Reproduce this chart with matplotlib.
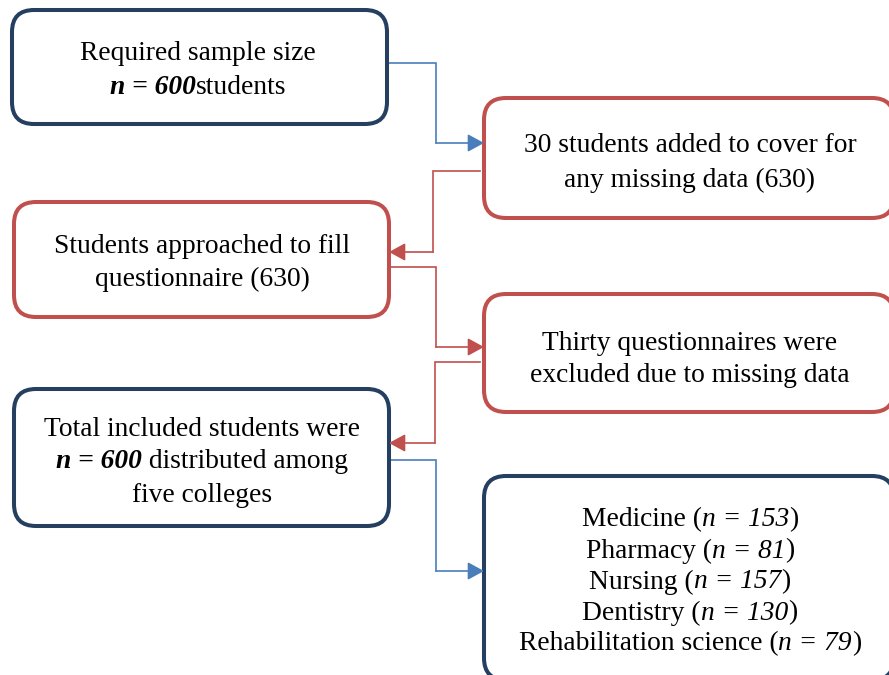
import matplotlib.pyplot as plt
from matplotlib.patches import FancyBboxPatch

NAVY = '#243F60'
RED = '#C0504D'
BLUE = '#4A7EBB'

colleges = ['Medicine', 'Pharmacy', 'Nursing', 'Dentistry', 'Rehabilitation science']
college_n = [153, 81, 157, 130, 79]
sample_size = 600
added = 30
approached = 630

# box: (x0, y0, x1, y1) in pixels (y down), edge colour
boxes = {
    'required': ((12, 10, 387, 124), NAVY),
    'added': ((484, 98, 894, 218), RED),
    'approached': ((14, 202, 389, 317), RED),
    'excluded': ((484, 294, 894, 412), RED),
    'total': ((14, 389, 389, 526), NAVY),
    'colleges': ((484, 476, 894, 680), NAVY),
}

# each line is a list of (text, weight, style)
texts = {
    'required': [[('Required sample size', 'normal', 'normal')],
                 [(f'n = {sample_size}', 'bold', 'italic'), ('students', 'normal', 'normal')]],
    'added': [[(f'{added} students added to cover for', 'normal', 'normal')],
              [(f'any missing data ({approached})', 'normal', 'normal')]],
    'approached': [[('Students approached to fill', 'normal', 'normal')],
                   [(f'questionnaire ({approached})', 'normal', 'normal')]],
    'excluded': [[('Thirty questionnaires were', 'normal', 'normal')],
                 [('excluded due to missing data', 'normal', 'normal')]],
    'total': [[('Total included students were', 'normal', 'normal')],
              [(f'n = {sample_size}', 'bold', 'italic'), (' distributed among', 'normal', 'normal')],
              [('five colleges', 'normal', 'normal')]],
    'colleges': [[(f'{c} (', 'normal', 'normal'), ('n = ' + str(n), 'normal', 'italic'), (')', 'normal', 'normal')]
                 for c, n in zip(colleges, college_n)],
}
text_centers = {
    'required': (198, 70), 'added': (690, 163), 'approached': (202, 263),
    'excluded': (690, 359), 'total': (202, 462), 'colleges': (690, 582),
}
line_gap = {'required': 34, 'added': 34, 'approached': 33, 'excluded': 32,
            'total': 33, 'colleges': 31}

# connectors: list of points, colour
connectors = [
    ([(387, 63), (436, 63), (436, 143), (484, 143)], BLUE),
    ([(480, 171), (433, 171), (433, 252), (389, 252)], RED),
    ([(389, 267), (436, 267), (436, 347), (484, 347)], RED),
    ([(480, 362), (435, 362), (435, 443), (389, 443)], RED),
    ([(389, 460), (436, 460), (436, 571), (484, 571)], BLUE),
]

fig = plt.figure(figsize=(8.89, 6.75), dpi=100)
ax = fig.add_axes([0, 0, 1, 1])
ax.set_xlim(0, 889)
ax.set_ylim(675, 0)
ax.axis('off')

for key, ((x0, y0, x1, y1), col) in boxes.items():
    ax.add_patch(FancyBboxPatch((x0, y0), x1 - x0, y1 - y0,
                                boxstyle='round,pad=0,rounding_size=22',
                                fc='white', ec=col, lw=2.9, zorder=2))

for pts, col in connectors:
    xs, ys = zip(*pts)
    ax.plot(xs[:-1], ys[:-1], color=col, lw=1.2, zorder=1, solid_joinstyle='miter')
    ax.annotate('', xy=pts[-1], xytext=pts[-2],
                arrowprops=dict(arrowstyle='-|>,head_length=0.55,head_width=0.3',
                                color=col, lw=1.2,
                                mutation_scale=18, shrinkA=0, shrinkB=0), zorder=3)

fig.canvas.draw()
renderer = fig.canvas.get_renderer()
fam = 'Liberation Serif'
fs = 19.8

def draw_line(segments, cx, cy):
    objs = []
    for s, w, st in segments:
        t = ax.text(0, cy, s, family=fam, fontsize=fs, fontweight=w, fontstyle=st,
                    ha='left', va='center', zorder=4)
        objs.append(t)
    widths = [t.get_window_extent(renderer).width for t in objs]
    x = cx - sum(widths) / 2
    for t, wd in zip(objs, widths):
        t.set_x(x)
        x += wd

for key, lines in texts.items():
    cx, cy = text_centers[key]
    gap = line_gap[key]
    start = cy - gap * (len(lines) - 1) / 2
    for i, segs in enumerate(lines):
        draw_line(segs, cx, start + i * gap)

fig.savefig('out.png', dpi=100)
